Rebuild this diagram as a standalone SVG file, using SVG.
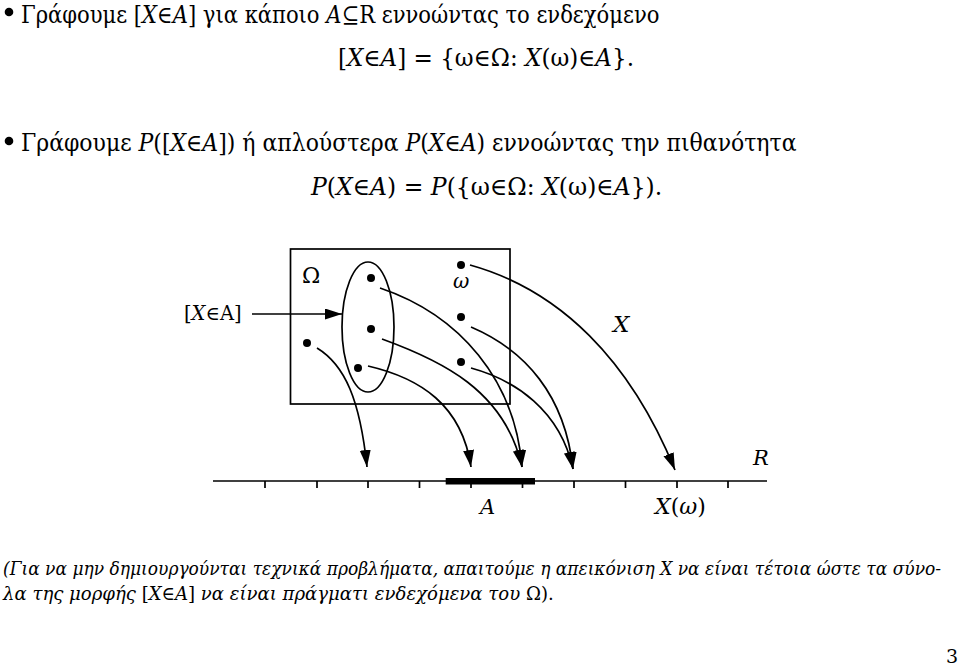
<svg xmlns="http://www.w3.org/2000/svg" width="960" height="667" viewBox="0 0 960 667">
<style>
.big{font-size:24px}
.sm{font-size:19px}
.it{font-style:italic}
.up{font-style:normal}
.ln{fill:none;stroke:#000;stroke-width:1.7}
.ar{fill:none;stroke:#000;stroke-width:1.7;marker-end:url(#ah)}
</style>
<defs>
<marker id="ah" markerUnits="userSpaceOnUse" markerWidth="18" markerHeight="12" refX="17" refY="5.5" orient="auto">
<path d="M0,0 L17,5.5 L0,11 z" fill="#000"/>
</marker>
</defs>
<rect width="960" height="667" fill="#fff"/>
<g fill="#000" font-family="DejaVu Serif, serif">
<g id="text-top">
<circle cx="9" cy="12" r="4.3"/>
<text class="big" transform="translate(21,23) scale(0.879,1)">Γράφουμε [<tspan class="it">X</tspan>∈<tspan class="it">A</tspan>] για κάποιο <tspan class="it">A</tspan>⊆R εννοώντας το ενδεχόμενο</text>
<text class="big" transform="translate(338,66) scale(0.962,1)">[<tspan class="it">X</tspan>∈<tspan class="it">A</tspan>] = {ω∈Ω: <tspan class="it">X</tspan>(ω)∈<tspan class="it">A</tspan>}.</text>
<circle cx="9" cy="141" r="4.3"/>
<text class="big" transform="translate(21,151) scale(0.915,1)">Γράφουμε <tspan class="it">P</tspan>([<tspan class="it">X</tspan>∈<tspan class="it">A</tspan>]) ή απλούστερα <tspan class="it">P</tspan>(<tspan class="it">X</tspan>∈<tspan class="it">A</tspan>) εννοώντας την πιθανότητα</text>
<text class="big" transform="translate(311,195) scale(0.979,1)"><tspan class="it">P</tspan>(<tspan class="it">X</tspan>∈<tspan class="it">A</tspan>) = <tspan class="it">P</tspan>({ω∈Ω: <tspan class="it">X</tspan>(ω)∈<tspan class="it">A</tspan>}).</text>
</g>
<g id="omega-box">
<rect x="290.5" y="249" width="219.5" height="155" class="ln"/>
<text x="302" y="283" font-size="22">Ω</text>
</g>
<g id="event-set">
<ellipse cx="368" cy="327" rx="26" ry="65" class="ln"/>
</g>
<g id="event-label">
<text x="184" y="320" font-size="19.5">[<tspan class="it">X</tspan>∈A]</text>
</g>
<g id="points">
<circle cx="371" cy="278" r="4"/>
<circle cx="371" cy="329" r="4"/>
<circle cx="358" cy="368" r="4"/>
<circle cx="307" cy="343" r="4"/>
<circle cx="461" cy="265" r="4"/>
<circle cx="461" cy="317" r="4"/>
<circle cx="461" cy="362" r="4"/>
<text class="it" x="453" y="288" font-size="20">ω</text>
</g>
<g id="map-label">
<text class="it" x="613" y="332" font-size="23">X</text>
</g>
<g id="real-line">
<line x1="213" y1="481" x2="767" y2="481" class="ln"/>
<path class="ln" d="M265,481v7M317,481v7M368,481v7M419.5,481v7M471,481v7M522.5,481v7M574,481v7M625.5,481v7M677,481v7M728,481v7"/>
<rect x="445.7" y="478" width="89.3" height="6.5"/>
<text class="it" x="753" y="465" font-size="21">R</text>
<text class="it" x="480" y="514" font-size="21">A</text>
<text x="655" y="514" font-size="22"><tspan class="it">X</tspan>(<tspan class="it">ω</tspan>)</text>
</g>
<g id="connectors">
<path class="ar" d="M252,314 L342,314"/>
<path class="ar" d="M317,348 C345,365 360,400 367,467"/>
<path class="ar" d="M368,366 C420,378 462,405 471,467"/>
<path class="ar" d="M380,288 C460,315 515,380 522,467"/>
<path class="ar" d="M382,339 C440,360 505,390 522,467"/>
<path class="ar" d="M471,327 C525,350 565,395 573,469"/>
<path class="ar" d="M471,368 C515,380 560,410 573,469"/>
<path class="ar" d="M470,265 C560,290 630,360 675,470"/>
</g>
<g id="text-bottom">
<text class="sm it" transform="translate(3,575) scale(0.898,1)">(Για να μην δημιουργούνται τεχνικά προβλήματα, απαιτούμε η απεικόνιση X να είναι τέτοια ώστε τα σύνο-</text>
<text class="sm it" transform="translate(3,600) scale(0.952,1)">λα της μορφής <tspan class="up">[</tspan>X<tspan class="up">∈</tspan>A<tspan class="up">]</tspan> να είναι πράγματι ενδεχόμενα του <tspan class="up">Ω).</tspan></text>
<text x="946" y="663" font-size="19">3</text>
</g>
</g>
</svg>
